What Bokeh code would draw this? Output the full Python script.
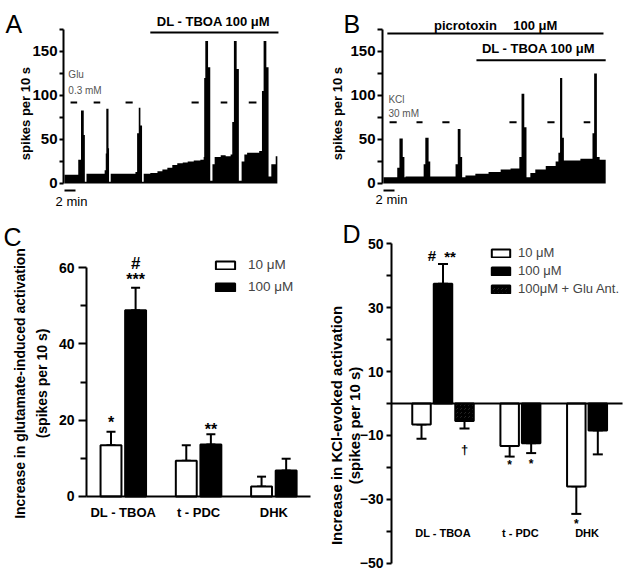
import numpy as np
from bokeh.plotting import figure
from bokeh.models import (ColumnDataSource, FixedTicker, Legend, LegendItem, Whisker, TeeHead)
from bokeh.layouts import column, row
from bokeh.embed import file_html
from bokeh.resources import INLINE
from bokeh.core.properties import value

FONT = "Liberation Sans"

# ---------------- Panel A : spikes per 10 s (bin start in min) ----------------
a_time = [0.0, 2.5, 3.0, 3.5, 3.7, 4.0, 7.3, 7.5, 7.6, 8.0, 8.1, 8.4, 12.9, 13.2, 13.5, 13.8, 14.1,
          14.4, 15.6, 16.9, 17.8, 18.7, 19.6, 20.5, 21.5, 22.4, 23.5, 24.7, 25.3, 25.4, 25.6, 26.1,
          26.5, 26.9, 27.3, 28.4, 29.3, 30.2, 30.5, 30.8, 31.3, 31.7, 32.2, 32.7, 33.2, 35.4, 35.9,
          36.2, 36.7, 37.1, 37.6, 38.4]
a_rate = [10, 27, 83, 55, 2, 11, 15, 34, 85, 40, 2, 11, 13, 57, 86, 66, 2,
          11, 12, 14, 16, 18, 21, 23, 24, 25, 26, 27, 30, 120, 162, 132,
          3, 22, 30, 32, 31, 33, 70, 162, 130, 3, 25, 33, 35, 37, 105,
          162, 132, 8, 22, 31]
a_end = 38.7
a_glu_on = [1.1, 5.3, 11.1, 23.1, 28.4, 33.5]
a_glu_off = [2.3, 6.5, 12.4, 24.4, 29.6, 34.9]
a_tboa = [15.6, 38.9]

# ---------------- Panel B ----------------
b_time = [0.0, 2.5, 2.9, 3.5, 3.8, 4.0, 7.3, 7.6, 8.2, 8.5, 13.1, 13.5, 14.0, 14.3, 14.9, 16.7,
          19.1, 21.3, 23.1, 24.7, 25.1, 25.6, 26.0, 26.7, 27.6, 29.5, 31.3, 31.8, 32.1, 32.5, 32.8,
          34.0, 35.8, 38.0, 38.3, 38.8, 39.3]
b_rate = [7, 18, 51, 30, 7, 8, 22, 52, 25, 8, 22, 62, 30, 7, 9, 11,
          13, 16, 17, 30, 102, 64, 7, 12, 16, 20, 25, 35, 120, 52, 26,
          26, 28, 57, 125, 30, 27]
b_end = 40.4
b_kcl_on = [1.1, 6.0, 10.7, 22.9, 29.8, 36.4]
b_kcl_off = [2.4, 7.1, 12.0, 24.2, 31.1, 37.6]
b_picro = [0.7, 40.0]
b_tboa = [16.9, 40.4]

# ---------------- Panel C ----------------
groups = ["DL - TBOA", "t - PDC", "DHK"]
c_10 = [13.4, 9.4, 2.6]
c_10_sem = [3.6, 4.0, 2.6]
c_100 = [48.8, 13.6, 6.8]
c_100_sem = [5.9, 2.7, 3.1]

# ---------------- Panel D ----------------
d_10 = [-6.6, -13.3, -25.9]
d_10_sem = [4.4, 3.3, 8.6]
d_100 = [37.4, -12.4, -8.4]
d_100_sem = [6.2, 3.1, 7.5]
d_ant_groups = ["DL - TBOA"]
d_ant = [-5.5]
d_ant_sem = [2.3]


def steps(t, v, t_end):
    edges = list(t) + [t_end]
    xs = np.repeat(edges, 2)[1:-1]
    ys = np.repeat(v, 2)
    return xs, ys


def make_fig(width, height, xr, yr, axis_x):
    p = figure(width=width, height=height, x_range=xr, y_range=yr,
               output_backend="svg", toolbar_location=None, x_axis_location=None,
               min_border_left=0, min_border_right=0, min_border_top=0, min_border_bottom=0)
    p.grid.visible = False
    p.outline_line_color = None
    p.background_fill_color = "white"
    p.yaxis.fixed_location = axis_x
    return p


def style_yaxis(ax, size, tick_out, minor_out, standoff):
    ax.axis_line_width = 2
    ax.major_tick_line_width = 2
    ax.minor_tick_line_width = 2
    ax.major_tick_in = 0
    ax.minor_tick_in = 0
    ax.major_tick_out = tick_out
    ax.minor_tick_out = minor_out
    ax.major_label_text_font = FONT
    ax.major_label_text_font_style = "bold"
    ax.major_label_text_font_size = size
    ax.major_label_text_color = "black"
    ax.major_label_standoff = standoff


def txt(p, x, y, s, size="13px", style="normal", align="center", baseline="middle",
        color="black", angle=0, dx=0):
    p.text(x=[x], y=[y], text=[s], text_font=value(FONT), text_font_size=size,
           text_font_style=style, text_align=align, text_baseline=baseline, text_color=color,
           angle=angle, angle_units="deg", x_offset=dx)


def trace_panel(width, x_start, x_end, time, rate, t_end, on, off, dash_y, tick_out):
    p = make_fig(width, 208, (x_start, x_end), (-28.41, 207.95), -0.18)
    xs, ys = steps(time, rate, t_end)
    p.varea(x=xs, y1=0, y2=ys, fill_color="black")
    p.segment(x0=on, y0=dash_y, x1=off, y1=dash_y, line_width=2, line_color="black")
    ax = p.yaxis[0]
    ax.ticker = FixedTicker(ticks=[0, 50, 100, 150], minor_ticks=[25, 75, 125, 175])
    ax.bounds = (0, 175)
    style_yaxis(ax, "15px", tick_out, tick_out, 2)
    # 2 min scale bar
    p.segment(x0=[0], y0=[-8], x1=[2], y1=[-8], line_width=2, line_color="black")
    return p


# ---------------- A ----------------
pA = trace_panel(318, -11.636, 46.18, a_time, a_rate, a_end, a_glu_on, a_glu_off, 92, 4)
pA.segment(x0=[a_tboa[0]], y0=[171.5], x1=[a_tboa[1]], y1=[171.5], line_width=2, line_color="black")
txt(pA, 27.1, 184, "DL - TBOA 100 \u03bcM", "13px", "bold")
txt(pA, 0.7, 124, "Glu", "10px", align="left", color="#555555")
txt(pA, 0.7, 106, "0.3 mM", "10px", align="left", color="#555555")
txt(pA, 1.27, -20.5, "2 min", "13px")
txt(pA, -7.09, 79.5, "spikes per 10 s", "13px", "bold", angle=90)
txt(pA, -10.73, 181.8, "A", "25px", align="left", baseline="alphabetic")

# ---------------- B ----------------
pB = trace_panel(311, -11.82, 44.73, b_time, b_rate, b_end, b_kcl_on, b_kcl_off, 69.5, 5)
pB.segment(x0=[b_picro[0]], y0=[170.5], x1=[b_picro[1]], y1=[170.5], line_width=2, line_color="black")
pB.segment(x0=[b_tboa[0]], y0=[140], x1=[b_tboa[1]], y1=[140], line_width=2, line_color="black")
txt(pB, 14.9, 179.5, "picrotoxin", "13px", "bold")
txt(pB, 27.6, 179.5, "100 \u03bcM", "13px", "bold")
txt(pB, 28.2, 153.4, "DL - TBOA 100 \u03bcM", "13px", "bold")
txt(pB, 0.9, 95.5, "KCl", "10px", align="left", color="#555555")
txt(pB, 0.9, 79.5, "30 mM", "10px", align="left", color="#555555")
txt(pB, 1.45, -18.2, "2 min", "13px")
txt(pB, -8.36, 79.5, "spikes per 10 s", "13px", "bold", angle=90)
txt(pB, -7.27, 181.8, "B", "25px", align="left", baseline="alphabetic")


# ---------------- bar helpers ----------------
def group_starts(sizes, gap):
    starts, s = [], 0.0
    for n in sizes:
        starts.append(s)
        s += n + gap
    return starts


def bar_source(xpos, vals, sems):
    ends = [v + (s if v >= 0 else -s) for v, s in zip(vals, sems)]
    return ColumnDataSource(dict(x=xpos, top=vals,
                                 lo=[min(a, b) for a, b in zip(vals, ends)],
                                 hi=[max(a, b) for a, b in zip(vals, ends)]))


def add_bars(p, src, width, fill, hatch=None, cap=10):
    kw = {}
    if hatch:
        kw = dict(hatch_pattern=hatch, hatch_color="black", hatch_scale=4, hatch_weight=2)
    r = p.vbar(x="x", top="top", bottom=0, width=width, source=src, fill_color=fill,
               line_color="black", line_width=2, **kw)
    p.add_layout(Whisker(source=src, base="x", lower="lo", upper="hi", line_width=2,
                         line_color="black",
                         lower_head=TeeHead(size=cap, line_width=2, line_color="black"),
                         upper_head=TeeHead(size=cap, line_width=2, line_color="black")))
    return r


# ---------------- C ----------------
c_start = group_starts([2, 2, 2], 1.06)
c_x10 = [s + 0 for s in c_start]
c_x100 = [s + 1 for s in c_start]
c_mid = [s + 0.5 for s in c_start]
c_axis = -0.996
pC = make_fig(312, 362, (-4.492, 8.191), (-19.40, 75.49), c_axis)
rc10 = add_bars(pC, bar_source(c_x10, c_10, c_10_sem), 0.85, "white", cap=9)
rc100 = add_bars(pC, bar_source(c_x100, c_100, c_100_sem), 0.85, "black", cap=9)
pC.segment(x0=[c_axis], y0=[0], x1=[8.11], y1=[0], line_width=2, line_color="black")

ax = pC.yaxis[0]
ax.ticker = FixedTicker(ticks=[0, 20, 40, 60], minor_ticks=[10, 30, 50])
ax.bounds = (0, 60)
style_yaxis(ax, "14px", 8, 6, 4)

pC.text(x=c_mid, y=[-4.2] * 3, text=groups, text_font=value(FONT), text_font_size="13px",
        text_font_style="bold", text_align="center", text_baseline="middle")
pC.text(x=[c_x10[0], c_x100[0], c_x100[1]], y=[19.4, 57.0, 17.6], text=["*", "***", "**"],
        text_font=value(FONT), text_font_size="16px", text_font_style="bold",
        text_align="center", text_baseline="alphabetic")
txt(pC, c_x100[0], 61.0, "#", "17px", "bold", baseline="alphabetic")

legC = Legend(items=[LegendItem(label="10 \u03bcM", renderers=[rc10]),
                     LegendItem(label="100 \u03bcM", renderers=[rc100])],
              location=(213, 276), glyph_width=24, glyph_height=10, label_height=10,
              label_standoff=11, spacing=7, padding=0, margin=0,
              border_line_alpha=0, background_fill_alpha=0,
              label_text_font=FONT, label_text_font_size="13.5px")
pC.add_layout(legC)

txt(pC, -3.679, 29.62, "Increase in glutamate-induced activation", "14px", "bold", angle=90)
txt(pC, -2.825, 29.62, "(spikes per 10 s)", "14px", "bold", angle=90)
txt(pC, -4.37, 67.9, "C", "25px", align="left", baseline="alphabetic")

# ---------------- D ----------------
d_start = group_starts([3, 2, 2], 1.1)
d_x10 = [s + 0 for s in d_start]
d_x100 = [s + 1 for s in d_start]
d_xant = [d_start[0] + 2]
d_mid = [d_start[0] + 1, d_start[1] + 0.5, d_start[2] + 0.5]
d_axis = -1.395
pD = make_fig(317, 362, (-5.07, 9.674), (-52.19, 60.94), d_axis)
rd10 = add_bars(pD, bar_source(d_x10, d_10, d_10_sem), 0.86, "white")
rd100 = add_bars(pD, bar_source(d_x100, d_100, d_100_sem), 0.86, "black")
rdant = add_bars(pD, bar_source(d_xant, d_ant, d_ant_sem), 0.86, "white", hatch="criss_cross")
pD.segment(x0=[d_axis], y0=[0], x1=[9.35], y1=[0], line_width=2, line_color="black")

ax = pD.yaxis[0]
ax.ticker = FixedTicker(ticks=[-50, -30, -10, 10, 30, 50], minor_ticks=[-40, -20, 0, 20, 40])
ax.bounds = (-50, 50)
style_yaxis(ax, "14px", 5, 5, 3)

pD.text(x=d_mid, y=[-40.6] * 3, text=groups, text_font=value(FONT), text_font_size="11px",
        text_font_style="bold", text_align="center", text_baseline="middle")
txt(pD, d_x100[0], 46.3, "#", "15px", "bold", baseline="alphabetic", dx=-11)
txt(pD, d_x100[0], 45.8, "**", "15px", "bold", baseline="alphabetic", dx=7)
txt(pD, d_xant[0], -14.5, "\u2020", "13px", "bold", baseline="alphabetic")
pD.text(x=[d_x10[1], d_x100[1], d_x10[2]], y=[-19.2, -18.8, -37.7], text=["*", "*", "*"],
        text_font=value(FONT), text_font_size="12px", text_font_style="bold",
        text_align="center", text_baseline="alphabetic")

legD = Legend(items=[LegendItem(label="10 \u03bcM", renderers=[rd10]),
                     LegendItem(label="100 \u03bcM", renderers=[rd100]),
                     LegendItem(label="100\u03bcM + Glu Ant.", renderers=[rdant])],
              location=(177, 274), glyph_width=23, glyph_height=10, label_height=10,
              label_standoff=6, spacing=3, padding=0, margin=0,
              border_line_alpha=0, background_fill_alpha=0,
              label_text_font=FONT, label_text_font_size="13px")
pD.add_layout(legD)

txt(pD, -3.953, -6.875, "Increase in KCl-evoked activation", "15px", "bold", angle=90)
txt(pD, -3.116, -6.875, "(spikes per 10 s)", "15px", "bold", angle=90)
txt(pD, -3.674, 53.1, "D", "25px", align="left", baseline="alphabetic")

layout = column(row(pA, pB), row(pC, pD))
open("out.html", "w").write(file_html(layout, INLINE))
